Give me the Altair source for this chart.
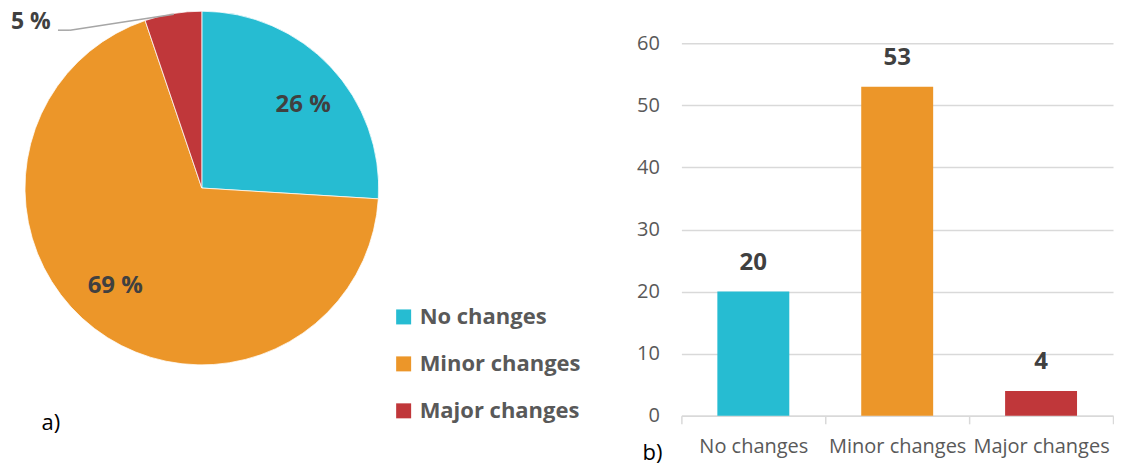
import altair as alt
import pandas as pd

# ---- data ----
categories = ["No changes", "Minor changes", "Major changes"]
counts = [20, 53, 4]
colors = ["#26BCD2", "#EC9629", "#C0373A"]
y_ticks = [0, 10, 20, 30, 40, 50, 60]
panel_labels = ["a)", "b)"]

df = pd.DataFrame({"category": categories, "count": counts, "order": list(range(len(categories)))})
lab_a = pd.DataFrame({"label": [panel_labels[0]]})
lab_b = pd.DataFrame({"label": [panel_labels[1]]})

FONT = "Open Sans"
CX, CY, R = 193, 179, 177

color_pie = alt.Color(
    "category:N",
    sort=categories,
    scale=alt.Scale(domain=categories, range=colors),
    legend=alt.Legend(
        title=None, orient="none", legendX=384, legendY=297,
        symbolType="square", symbolSize=225, symbolStrokeWidth=0,
        labelFontSize=22, labelFontWeight="bold", labelColor="#595959",
        labelFont=FONT, rowPadding=25, labelOffset=5, padding=0,
        labelLimit=300,
    ),
)

base_pie = (
    alt.Chart(df)
    .transform_joinaggregate(total="sum(count)")
    .transform_calculate(pct="round(datum.count / datum.total * 100) + ' %'")
)

arcs = base_pie.mark_arc(outerRadius=R, stroke="white", strokeWidth=0.75).encode(
    theta=alt.Theta("count:Q", stack=True),
    order=alt.Order("order:Q"),
    color=color_pie,
    x=alt.value(CX),
    y=alt.value(CY),
)

inner_labels = base_pie.mark_text(
    radius=131, thetaOffset=0.07, fontSize=24, fontWeight="bold",
    color="#404040", font=FONT,
).encode(
    theta=alt.Theta("count:Q", stack=True),
    order=alt.Order("order:Q"),
    text="pct:N",
    x=alt.value(CX),
    y=alt.value(CY),
    opacity=alt.condition("datum.count >= 10", alt.value(1), alt.value(0)),
)

outer_label = base_pie.transform_filter("datum.count < 10").mark_text(
    fontSize=23, fontWeight="bold", color="#404040", font=FONT,
    align="left", baseline="middle",
).encode(text="pct:N", x=alt.value(2), y=alt.value(13))

leader1 = alt.Chart(df).transform_filter("datum.count < 10").mark_rule(
    color="#A6A6A6", strokeWidth=1.5
).encode(x=alt.value(49), x2=alt.value(61), y=alt.value(21), y2=alt.value(21))

leader2 = alt.Chart(df).transform_filter("datum.count < 10").mark_rule(
    color="#A6A6A6", strokeWidth=1.5
).encode(x=alt.value(61), x2=alt.value(165), y=alt.value(21), y2=alt.value(5))

a_text = alt.Chart(lab_a).mark_text(
    fontSize=22, color="#000000", font=FONT, baseline="middle"
).encode(text="label:N", x=alt.value(42), y=alt.value(414))

pie = alt.layer(arcs, inner_labels, outer_label, leader1, leader2, a_text).properties(
    width=600, height=407
)

# ---- bar chart ----
x_enc = alt.X(
    "category:N",
    sort=categories,
    scale=alt.Scale(paddingInner=0, paddingOuter=0),
    axis=alt.Axis(
        title=None, labelAngle=0, labelFontSize=20, labelColor="#595959",
        labelFont=FONT, tickBand="extent", tickColor="#D9D9D9", tickSize=8,
        tickWidth=1.5, domainColor="#D9D9D9", domainWidth=1.5,
        labelPadding=13, grid=False, labelLimit=300,
    ),
)
y_enc = alt.Y(
    "count:Q",
    scale=alt.Scale(domain=[0, 60], range=[407, 34], nice=False),
    axis=alt.Axis(
        title=None, values=y_ticks, labelFontSize=20, labelColor="#595959",
        labelFont=FONT, ticks=False, domain=False, gridColor="#D9D9D9",
        gridWidth=1.5, labelPadding=22,
    ),
)

bars = alt.Chart(df).mark_bar(width=alt.RelativeBandSize(0.5)).encode(
    x=x_enc,
    y=y_enc,
    color=alt.Color("category:N", scale=alt.Scale(domain=categories, range=colors), legend=None),
)

values_text = alt.Chart(df).mark_text(
    fontSize=24, fontWeight="bold", color="#404040", font=FONT,
    dy=-29, baseline="middle",
).encode(x=x_enc, y=y_enc, text="count:Q")

b_text = alt.Chart(lab_b).mark_text(
    fontSize=22, color="#000000", font=FONT, baseline="middle"
).encode(text="label:N", x=alt.value(-29), y=alt.value(444))

bar = alt.layer(bars, values_text, b_text).properties(width=432, height=407)

chart = (
    alt.hconcat(pie, bar, spacing=73, bounds="flush")
    .resolve_scale(color="independent")
    .properties(padding={"left": 1, "top": 1, "right": 0, "bottom": 0})
    .configure(font=FONT)
    .configure_view(stroke="transparent", strokeWidth=0)
)

chart.save("out.html", embed_options={"renderer": "svg", "actions": False})
